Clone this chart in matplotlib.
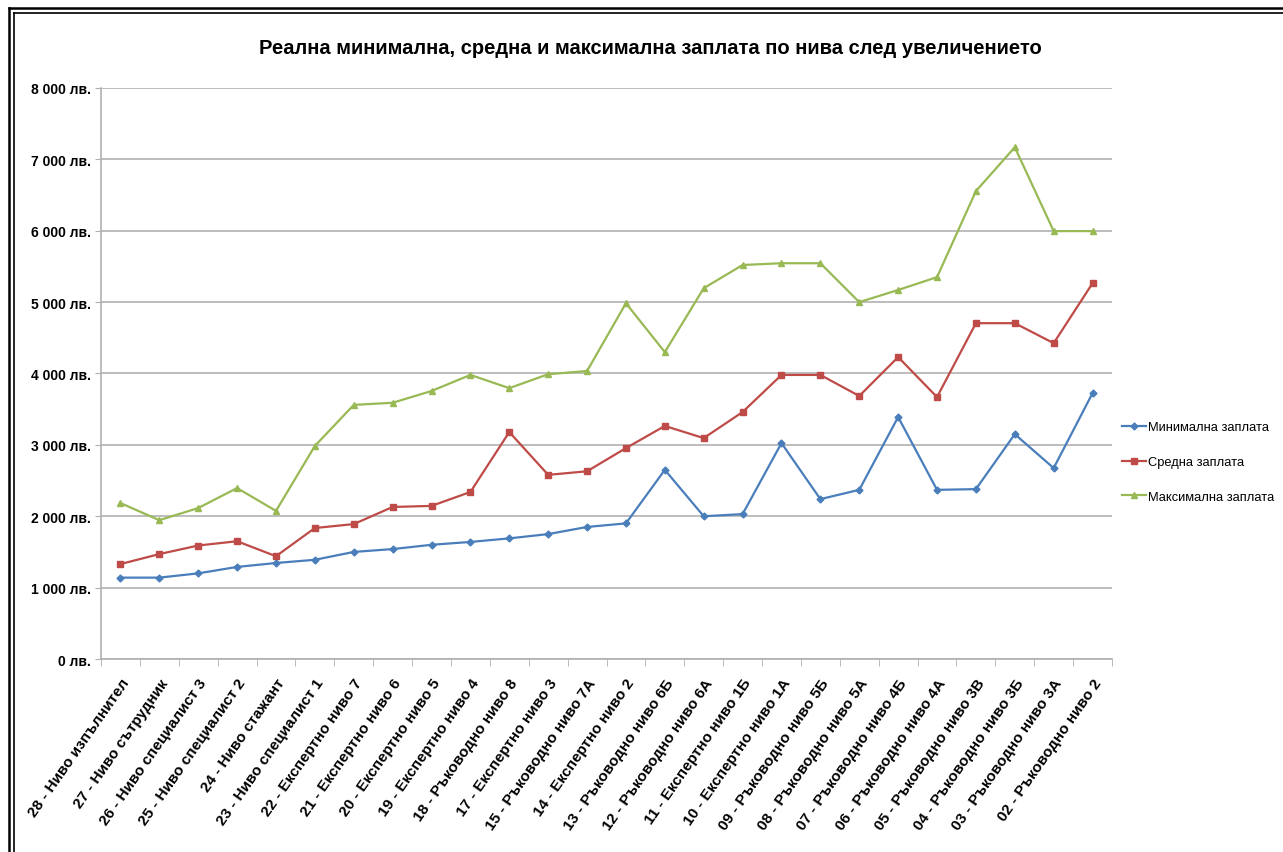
import matplotlib.pyplot as plt
from matplotlib.lines import Line2D
from matplotlib.ticker import FuncFormatter
import numpy as np

plt.rcParams['font.family'] = ['Liberation Sans', 'DejaVu Sans']

levels = ['28 - Ниво изпълнител', '27 - Ниво сътрудник', '26 - Ниво специалист 3',
          '25 - Ниво специалист 2', '24 - Ниво стажант', '23 - Ниво специалист 1',
          '22 - Експертно ниво 7', '21 - Експертно ниво 6', '20 - Експертно ниво 5',
          '19 - Експертно ниво 4', '18 - Ръководно ниво 8', '17 - Експертно ниво 3',
          '15 - Ръководно ниво 7А', '14 - Експертно ниво 2', '13 - Ръководно ниво 6Б',
          '12 - Ръководно ниво 6А', '11 - Експертно ниво 1Б', '10 - Експертно ниво 1А',
          '09 - Ръководно ниво 5Б', '08 - Ръководно ниво 5А', '07 - Ръководно ниво 4Б',
          '06 - Ръководно ниво 4А', '05 - Ръководно ниво 3В', '04 - Ръководно ниво 3Б',
          '03 - Ръководно ниво 3А', '02 - Ръководно ниво 2']

min_pay = [1140, 1140, 1200, 1290, 1345, 1390, 1500, 1540, 1600, 1640, 1690, 1750, 1850,
           1900, 2650, 2000, 2030, 3025, 2240, 2370, 3390, 2370, 2380, 3150, 2675, 3725]
avg_pay = [1330, 1470, 1590, 1650, 1440, 1835, 1890, 2130, 2145, 2340, 3180, 2580, 2630,
           2955, 3265, 3095, 3460, 3980, 3980, 3685, 4230, 3670, 4705, 4705, 4425, 5265]
max_pay = [2185, 1945, 2115, 2395, 2075, 2985, 3560, 3590, 3755, 3980, 3795, 3990, 4035,
           4985, 4300, 5195, 5520, 5545, 5545, 5000, 5170, 5350, 6555, 7170, 5995, 5995]

W, H = 1283, 853
fig = plt.figure(figsize=(W / 100, H / 100), dpi=100)
ax = fig.add_axes([101 / W, 1 - 660 / H, (1112 - 101) / W, (660 - 89) / H])

x = np.arange(len(levels))
ax.plot(x, min_pay, color='#4a7ebb', lw=1.6, marker='D', ms=3.5, label='Минимална заплата')
ax.plot(x, avg_pay, color='#be4b48', lw=1.6, marker='s', ms=4, label='Средна заплата')
ax.plot(x, max_pay, color='#98b954', lw=1.6, marker='^', ms=4, label='Максимална заплата')

ax.set_xlim(-0.5, len(levels) - 0.5)
ax.set_ylim(0, 8000)
ax.set_yticks(np.arange(0, 8001, 1000))
ax.yaxis.set_major_formatter(FuncFormatter(
    lambda v, p: '0 лв.' if v == 0 else f'{int(v):,} лв.'.replace(',', ' ')))
ax.grid(axis='y', color='#b8b8b8', lw=1.3)
ax.set_axisbelow(True)

ax.set_xticks(x)
ax.set_xticklabels(levels, rotation=55, ha='right', rotation_mode='anchor',
                   fontsize=11, fontweight='bold')
ax.set_xticks(np.arange(-0.5, len(levels)), minor=True)
ax.tick_params(axis='x', which='major', length=0, pad=12)
ax.tick_params(axis='x', which='minor', length=5, color='#b0b0b0')
ax.tick_params(axis='y', length=4, color='#b0b0b0', labelsize=10)
for t in ax.get_yticklabels():
    t.set_fontweight('bold')

for s in ['top', 'right']:
    ax.spines[s].set_visible(False)
for s in ['left', 'bottom']:
    ax.spines[s].set_color('#b0b0b0')
    ax.spines[s].set_linewidth(1.2)

ax.legend(loc='center left', bbox_to_anchor=(1.0, 0.345), frameon=False,
          fontsize=9.3, handlelength=1.8, handletextpad=0.15, labelspacing=1.75,
          borderaxespad=0.4)

fig.text(650 / W, 1 - 48 / H, 'Реална минимална, средна и максимална заплата по нива след увеличението',
         ha='center', va='center', fontsize=14.5, fontweight='bold')

# double frame along the left and top edges
for px in (9, 13.5):
    fig.add_artist(Line2D([px / W, px / W], [0, 1 - px / H], transform=fig.transFigure,
                          color='black', lw=1.8 if px < 10 else 1.2))
    fig.add_artist(Line2D([px / W, 1], [1 - px / H, 1 - px / H], transform=fig.transFigure,
                          color='black', lw=1.8 if px < 10 else 1.2))

fig.savefig('out.png', dpi=100)
